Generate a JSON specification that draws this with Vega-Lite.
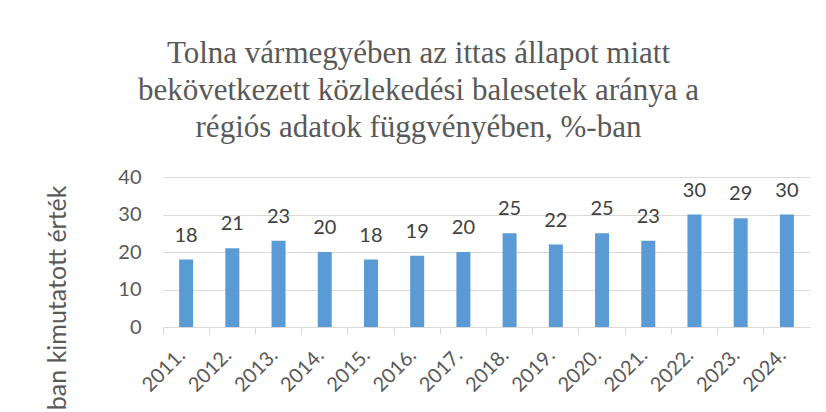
{
  "$schema": "https://vega.github.io/schema/vega-lite/v6.json",
  "width": 647,
  "height": 150,
  "autosize": {"type": "none"},
  "padding": {"left": 163, "top": 177, "right": 16, "bottom": 85},
  "background": "white",
  "title": {
    "text": ["Tolna vármegyében az ittas állapot miatt", "bekövetkezett közlekedési balesetek aránya a", "régiós adatok függvényében, %-ban"],
    "font": "Liberation Serif",
    "fontSize": 31,
    "fontWeight": "normal",
    "color": "#595959",
    "lineHeight": 37,
    "anchor": "middle",
    "baseline": "bottom",
    "dx": -68,
    "offset": -8
  },
  "data": {
    "values": [
      {"ev": "2011.", "ertek": 18},
      {"ev": "2012.", "ertek": 21},
      {"ev": "2013.", "ertek": 23},
      {"ev": "2014.", "ertek": 20},
      {"ev": "2015.", "ertek": 18},
      {"ev": "2016.", "ertek": 19},
      {"ev": "2017.", "ertek": 20},
      {"ev": "2018.", "ertek": 25},
      {"ev": "2019.", "ertek": 22},
      {"ev": "2020.", "ertek": 25},
      {"ev": "2021.", "ertek": 23},
      {"ev": "2022.", "ertek": 30},
      {"ev": "2023.", "ertek": 29},
      {"ev": "2024.", "ertek": 30}
    ]
  },
  "encoding": {
    "x": {
      "field": "ev",
      "type": "nominal",
      "sort": null,
      "scale": {"paddingInner": 0, "paddingOuter": 0},
      "axis": {
        "title": null,
        "labelAngle": -45,
        "labelAlign": "right",
        "labelBaseline": "middle",
        "labelFont": "Lato",
        "labelFontSize": 20,
        "labelColor": "#595959",
        "labelPadding": 18,
        "labelOffset": -4,
        "domainColor": "#d9d9d9",
        "tickColor": "#d9d9d9",
        "tickSize": 7,
        "bandPosition": 0,
        "grid": false
      }
    },
    "y": {
      "field": "ertek",
      "type": "quantitative",
      "scale": {"domain": [0, 40], "nice": false},
      "axis": {
        "values": [0, 10, 20, 30, 40],
        "title": "ban kimutatott érték",
        "titleFont": "Lato",
        "titleFontSize": 25,
        "titleFontWeight": "normal",
        "titleColor": "#595959",
        "titleAngle": -90,
        "titleAlign": "right",
        "titleBaseline": "middle",
        "titleX": -106,
        "titleY": 8,
        "labelFont": "Lato",
        "labelFontSize": 20,
        "labelColor": "#595959",
        "labelPadding": 22,
        "ticks": false,
        "domain": false,
        "grid": true,
        "gridColor": "#d9d9d9",
        "gridWidth": 1
      }
    }
  },
  "layer": [
    {"mark": {"type": "bar", "color": "#5B9BD5", "size": 14}},
    {
      "mark": {"type": "text", "baseline": "alphabetic", "dy": -18, "font": "Lato", "fontSize": 20, "color": "#404040"},
      "encoding": {"text": {"field": "ertek", "type": "quantitative"}}
    }
  ],
  "config": {"view": {"stroke": null}}
}
